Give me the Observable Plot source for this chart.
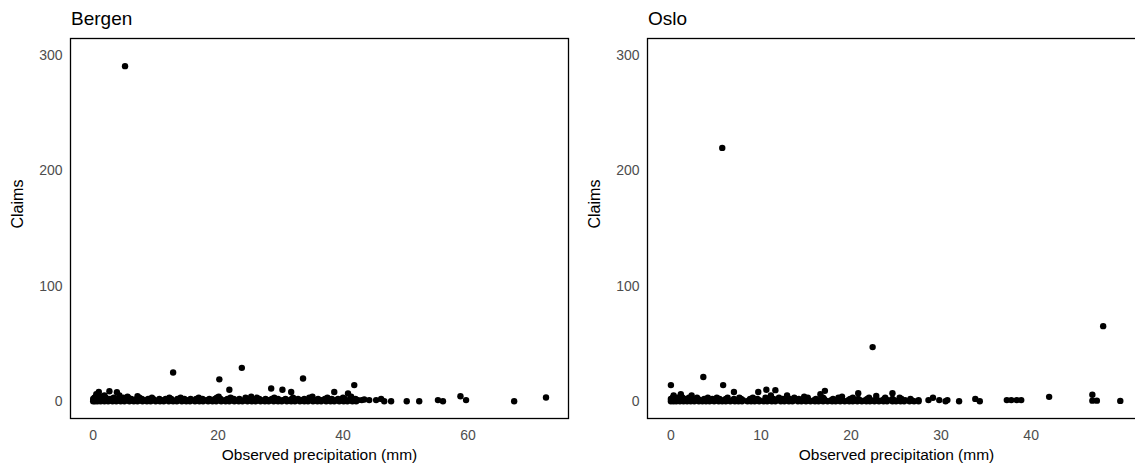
<!DOCTYPE html>
<html><head><meta charset="utf-8">
<script src="https://cdn.jsdelivr.net/npm/d3@7"></script>
<script src="https://cdn.jsdelivr.net/npm/@observablehq/plot@0.6"></script>
<style>
body{margin:0;overflow:hidden;background:#fff;font-family:"Liberation Sans",Arial,Helvetica,sans-serif;}
#wrap{position:relative;width:1135px;height:469px;overflow:hidden;background:#fff}
.title{position:absolute;top:8px;font-size:19px;line-height:22px;color:#000;white-space:nowrap}
.panel{position:absolute;top:30px}
.panel svg{max-width:none !important;display:block}
</style></head><body>
<div id="wrap">
  <div class="title" id="t1" style="left:71px"></div>
  <div class="title" id="t2" style="left:648px"></div>
  <div class="panel" id="p1" style="left:0px;width:575px"></div>
  <div class="panel" id="p2" style="left:577px;width:575px"></div>
</div>
<script>
const panelTitles = ["Bergen", "Oslo"];
const xLabel = "Observed precipitation (mm)";
const yLabel = "Claims";
const yTicks = [0, 100, 200, 300];
const bergenTicks = [0, 20, 40, 60];
const osloTicks = [0, 10, 20, 30, 40];

// Bergen: observed precipitation (mm) and claims
const bergenPrecip = [
  0,0.3,0.7,1.2,1.8,2.4,3.1,3.7,4.4,5.0,
  5.8,6.5,7.1,7.9,8.6,9.2,10.0,10.7,11.3,12.1,
  12.8,13.4,14.2,14.9,15.5,16.3,17.0,17.6,18.4,19.1,
  19.7,20.5,21.2,21.8,22.6,23.3,23.9,24.7,25.4,26.0,
  26.8,27.5,28.1,28.9,29.6,30.2,31.0,31.7,32.3,33.1,
  33.8,34.4,35.2,35.9,36.5,37.3,38.0,38.6,39.4,40.1,
  40.7,41.5,42.1,44.2,45.3,46.6,47.7,50.2,52.2,56.0,
  67.4,43.4,55.2,59.7,46.1,72.5,58.8,
  0.1,0.5,1.0,1.5,2.1,2.8,3.4,4.0,4.7,5.5,
  6.2,6.9,7.6,8.3,9.0,9.8,10.5,11.2,12.0,12.7,
  13.5,14.3,15.0,15.8,16.6,17.3,18.1,18.9,19.6,20.3,
  21.1,21.9,22.7,23.5,24.2,25.0,25.8,26.5,27.3,28.0,
  28.8,29.6,30.3,31.1,31.9,32.6,33.4,34.2,35.0,35.7,
  36.5,37.2,38.0,38.8,39.5,40.3,41.0,41.8,42.4,43.0,
  0.0,0.4,0.9,1.6,2.3,3.0,3.8,4.6,5.3,6.1,
  7.0,7.8,8.8,9.6,10.6,11.6,12.5,13.5,14.6,15.6,
  16.5,17.5,18.6,19.5,20.4,21.5,22.5,23.4,24.5,25.5,
  26.6,27.6,28.6,29.6,30.8,31.8,32.8,33.8,34.9,36.0,
  37.1,38.2,39.2,40.3,41.3,42.0,0.6,1.1,2.7,3.5,
  0.2,0.8,1.4,2.0,3.3,4.3,5.6,7.4,9.4,12.2,
  14.0,16.9,19.8,22.0,24.4,26.2,29.0,32.0,34.6,37.5,
  40.0,0.3,1.7,4.8,
  0.5,0.9,1.4,2.6,3.8,1.8,4.2,5.5,7.1,20.1,
  25.3,35.1,41.3,
  5.1,12.8,20.2,23.8,21.8,28.5,30.3,31.7,33.6,38.6,
  40.8,41.8
];
const bergenClaims = [
  0,0,0,0,0,0,0,0,0,0,
  0,0,0,0,0,0,0,0,0,0,
  0,0,0,0,0,0,0,0,0,0,
  0,0,0,0,0,0,0,0,0,0,
  0,0,0,0,0,0,0,0,0,0,
  0,0,0,0,0,0,0,0,0,0,
  0,0,0,1,1,0,0,0,0,0,
  0,1.5,1,1,2,3.2,4.3,
  1,1,1,1,1,1,1,1,1,1,
  1,1,1,1,1,1,1,1,1,1,
  1,1,1,1,1,1,1,1,1,1,
  1,1,1,1,1,1,1,1,1,1,
  1,1,1,1,1,1,1,1,1,1,
  1,1,1,1,1,1,1,1,1,1,
  2,2,2,2,2,2,2,2,2,2,
  2,2,2,2,2,2,2,2,2,2,
  2,2,2,2,2,2,2,2,2,2,
  2,2,2,2,2,2,2,2,2,2,
  2,2,2,2,2,2,2,2,2,2,
  3,3,3,3,3,3,3,3,3,3,
  3,3,3,3,3,3,3,3,3,3,
  3,3,3,3,
  6,8,4,8.7,7.9,5,5,4,4.3,4,
  4,4,4,
  291,25,19,29,10,11,10,8,19.7,8,
  6.7,14
];

// Oslo: observed precipitation (mm) and claims
const osloPrecip = [
  0,0.3,0.6,1.0,1.4,1.8,2.2,2.6,3.1,3.5,
  3.9,4.3,4.8,5.3,5.7,6.1,6.6,7.1,7.5,7.9,
  8.5,8.9,9.3,9.8,10.3,10.7,11.2,11.6,12.2,12.6,
  13.1,13.5,14.1,14.5,15.0,15.5,16.0,16.4,16.9,17.4,
  17.9,18.3,18.8,19.3,19.8,20.2,20.7,21.2,21.7,22.1,
  22.6,23.1,23.6,24.0,24.6,25.0,25.5,25.9,26.5,27.0,
  27.5,28.6,30.5,32.0,34.3,37.3,38.4,46.8,47.3,49.9,
  0.1,0.5,1.1,1.6,2.1,2.8,3.3,3.8,4.4,5.1,
  5.6,6.2,6.9,7.4,8.0,8.7,9.2,9.8,10.5,11.0,
  11.6,12.3,12.9,13.4,14.1,14.7,15.3,15.9,16.5,17.1,
  17.8,18.4,19.0,19.7,20.3,21.0,21.6,22.2,22.9,23.5,
  24.1,24.8,25.4,26.0,26.7,27.5,29.8,30.7,37.8,38.9,
  0.0,0.4,0.8,1.5,2.3,3.0,3.7,4.6,5.4,6.1,
  7.0,7.8,8.8,9.6,10.6,11.4,12.4,13.2,14.2,15.1,
  16.1,17.0,18.0,18.9,19.9,20.8,21.8,22.8,23.7,24.6,
  25.6,26.6,29.1,33.8,
  0.2,0.7,1.3,2.0,2.9,4.1,5.1,6.3,7.6,9.1,
  10.5,12.0,13.7,15.2,16.9,18.6,20.2,22.0,23.8,25.4,
  0.3,1.1,2.3,7.0,9.7,10.6,11.6,11.1,12.9,16.6,
  17.1,20.8,24.6,14.8,19.0,22.8,42.0,46.8,
  0.0,3.6,5.8,5.7,22.4,48.0
];
const osloClaims = [
  0,0,0,0,0,0,0,0,0,0,
  0,0,0,0,0,0,0,0,0,0,
  0,0,0,0,0,0,0,0,0,0,
  0,0,0,0,0,0,0,0,0,0,
  0,0,0,0,0,0,0,0,0,0,
  0,0,0,0,0,0,0,0,0,0,
  0,1,0,0,0,1,1,0.5,0.5,0.3,
  1,1,1,1,1,1,1,1,1,1,
  1,1,1,1,1,1,1,1,1,1,
  1,1,1,1,1,1,1,1,1,1,
  1,1,1,1,1,1,1,1,1,1,
  1,1,1,1,1,1,1,1,1,1,
  2,2,2,2,2,2,2,2,2,2,
  2,2,2,2,2,2,2,2,2,2,
  2,2,2,2,2,2,2,2,2,2,
  2,2,3,2,
  3,3,3,3,3,3,3,3,3,3,
  3,3,3,3,3,3,3,3,3,3,
  5,6,5,8,8,10,9.6,5,5,6,
  9,7,7,4,4,4.5,3.8,5.6,
  14,21,14,220,47,65.2
];

const bergen = bergenPrecip.map((x, i) => ({x, y: bergenClaims[i]}));
const oslo = osloPrecip.map((x, i) => ({x, y: osloClaims[i]}));

const font = '"Liberation Sans", Arial, Helvetica, sans-serif';

function panel(data, xDomain, xTicks, width, mL, mR) {
  return Plot.plot({
    width, height: 439,
    marginLeft: mL, marginRight: mR, marginTop: 8, marginBottom: 51,
    style: {fontFamily: font, background: "#fff", overflow: "visible", maxWidth: "none"},
    x: {domain: xDomain},
    y: {domain: [-15, 315]},
    marks: [
      Plot.dot(data, {x: "x", y: "y", r: 3.2, fill: "#000", stroke: "none"}),
      Plot.frame({stroke: "#000", strokeWidth: 1.3}),
      Plot.axisY({ticks: yTicks, tickSize: 0, tickPadding: 8, fontSize: 14, fill: "#4d4d4d", label: null}),
      Plot.axisX({ticks: xTicks, tickSize: 0, tickPadding: 12, fontSize: 14, fill: "#4d4d4d", label: null}),
      Plot.text([yLabel], {text: d => d, frameAnchor: "left", dx: -53, rotate: -90, fontSize: 16, fill: "#000"}),
      Plot.text([xLabel], {text: d => d, frameAnchor: "bottom", dy: 41, fontSize: 15.5, fill: "#000"})
    ]
  });
}

document.getElementById("t1").textContent = panelTitles[0];
document.getElementById("t2").textContent = panelTitles[1];
document.getElementById("p1").append(panel(bergen, [-3.63, 76.1], bergenTicks, 575, 70, 7));
// Oslo panel has the same size as Bergen; its right border falls just outside the picture
document.getElementById("p2").append(panel(oslo, [-2.6, 52.7], osloTicks, 575, 70, 7));
</script>
</body></html>
